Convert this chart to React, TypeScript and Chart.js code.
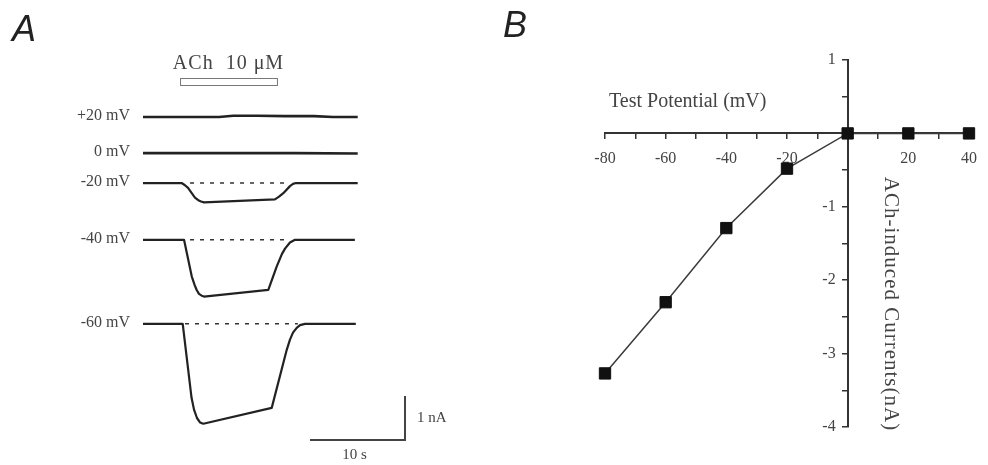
import React, { useEffect, useRef } from 'react';
import { Chart, registerables } from 'chart.js';

Chart.register(...registerables);

// ---------- Panel B: ACh-induced current vs. test potential ----------
const testPotentials = [-80, -60, -40, -20, 0, 20, 40]; // mV
const achCurrents = [-3.27, -2.3, -1.29, -0.48, 0, 0, 0]; // nA
const potentialTickLabels = ['-80', '-60', '-40', '-20', '20', '40'];
const currentTickLabels = ['1', '-1', '-2', '-3', '-4'];

// ---------- Panel A: whole-cell current traces at each holding potential ----------
const holdingLabels = ['+20 mV', '0 mV', '-20 mV', '-40 mV', '-60 mV'];
// sample times (s) and currents (nA, relative to holding current) per trace
const traceTimes: number[][] = [
  [0, 8, 9.5, 12, 15, 18, 20, 22.6],
  [0, 8, 16, 22.6],
  [0, 4.07, 4.42, 4.74, 5.13, 5.47, 5.82, 6.11, 6.42, 13.89, 14.32, 14.77, 15.47, 15.79, 16.1, 22.6],
  [0, 4.32, 5.13, 5.42, 5.65, 5.89, 6.18, 6.42, 13.19, 14.07, 14.63, 14.95, 15.47, 16.0, 22.3],
  [0, 4.18, 5.11, 5.37, 5.68, 6.0, 6.35, 13.55, 15.13, 15.47, 15.79, 16.18, 16.53, 17.05, 22.4],
];
const traceCurrents: number[][] = [
  [0, 0, 0.03, 0.03, 0.02, 0.02, 0, 0],
  [0, 0, 0, -0.01],
  [0, 0, -0.05, -0.11, -0.23, -0.33, -0.39, -0.42, -0.44, -0.37, -0.31, -0.23, -0.07, -0.02, 0, 0],
  [0, 0, -0.83, -1.02, -1.14, -1.23, -1.27, -1.29, -1.14, -0.61, -0.32, -0.2, -0.06, 0, 0],
  [0, 0, -1.68, -1.95, -2.14, -2.24, -2.27, -1.91, -0.59, -0.36, -0.2, -0.09, -0.03, 0, 0],
];
// dashed holding-current references (s), for the three responding traces
const refTraces = [2, 3, 4];
const refFrom = [4.95, 4.95, 4.42];
const refTo = [15.47, 15.47, 16.3];
// agonist application
const achOnset = 3.9; // s
const achOffset = 14.1; // s
const achLabel = 'ACh  10 μM';
// calibration bars
const scaleTime = 10; // s
const scaleCurrent = 1; // nA
const scaleTimeLabel = '10 s';
const scaleCurrentLabel = '1 nA';

// ---------- layout ----------
const W = 988;
const H = 465;
const PX_PER_S = 9.5;
const PX_PER_NA = 44;
const TRACE_LEFT = 143;
// vertical stacking of the traces (nA, in panel coordinates)
const traceBaselines = [-2.66, -3.48, -4.16, -5.45, -7.36];
const SERIF = "'Liberation Serif', 'Times New Roman', serif";
const SANS = "'Liberation Sans', Arial, sans-serif";
const INK = '#222';
const TEXT = '#444';

const panelAPlugin = {
  id: 'panelAExtras',
  afterDraw(chart: any) {
    const { ctx } = chart;
    const xs = chart.scales.x;
    const ys = chart.scales.y;
    ctx.save();

    // holding-potential labels
    ctx.fillStyle = TEXT;
    ctx.font = `16px ${SERIF}`;
    ctx.textAlign = 'right';
    ctx.textBaseline = 'middle';
    holdingLabels.forEach((lab, i) => {
      ctx.fillText(lab, 130, ys.getPixelForValue(traceBaselines[i]) - 1);
    });

    // ACh application bar and label
    const a0 = xs.getPixelForValue(achOnset);
    const a1 = xs.getPixelForValue(achOffset);
    ctx.strokeStyle = '#777';
    ctx.lineWidth = 1;
    ctx.strokeRect(a0 + 0.5, 78.5, a1 - a0, 7);
    ctx.font = `20px ${SERIF}`;
    (ctx as any).letterSpacing = '1px';
    ctx.textAlign = 'center';
    ctx.textBaseline = 'middle';
    ctx.fillText(achLabel, (a0 + a1) / 2, 64);
    (ctx as any).letterSpacing = '0px';

    // calibration bars
    const t0 = 17.58;
    const base = -10;
    const bx0 = xs.getPixelForValue(t0);
    const bx1 = xs.getPixelForValue(t0 + scaleTime);
    const by0 = ys.getPixelForValue(base);
    const by1 = ys.getPixelForValue(base + scaleCurrent);
    ctx.strokeStyle = '#444';
    ctx.lineWidth = 2;
    ctx.beginPath();
    ctx.moveTo(bx0, by0);
    ctx.lineTo(bx1, by0);
    ctx.lineTo(bx1, by1);
    ctx.stroke();
    ctx.font = `15px ${SERIF}`;
    ctx.textAlign = 'left';
    ctx.fillText(scaleCurrentLabel, bx1 + 12, (by0 + by1) / 2);
    ctx.textAlign = 'center';
    ctx.fillText(scaleTimeLabel, (bx0 + bx1) / 2 - 3, by0 + 15);

    // panel letter
    ctx.fillStyle = '#222';
    ctx.font = `italic 36px ${SANS}`;
    ctx.textAlign = 'left';
    ctx.textBaseline = 'alphabetic';
    ctx.fillText('A', 12, 41);
    ctx.restore();
  },
};

const panelBPlugin = {
  id: 'panelBExtras',
  afterDraw(chart: any) {
    const { ctx } = chart;
    const xs = chart.scales.x;
    const ys = chart.scales.y;
    ctx.save();
    ctx.fillStyle = TEXT;

    // current tick labels, set off to the left of the y axis
    ctx.font = `16px ${SERIF}`;
    ctx.textAlign = 'right';
    ctx.textBaseline = 'middle';
    const axisX = xs.getPixelForValue(0);
    currentTickLabels.forEach((lab) => {
      ctx.fillText(lab, axisX - 12, ys.getPixelForValue(Number(lab)));
    });

    ctx.font = `20px ${SERIF}`;
    ctx.textAlign = 'left';
    ctx.fillText('Test Potential (mV)', 609, 102);

    ctx.translate(891, 304);
    ctx.rotate(Math.PI / 2);
    ctx.font = `21px ${SERIF}`;
    (ctx as any).letterSpacing = '1px';
    ctx.textAlign = 'center';
    ctx.fillText('ACh-induced Currents(nA)', 0, 0);
    ctx.restore();

    ctx.save();
    ctx.fillStyle = '#222';
    ctx.font = `italic 36px ${SANS}`;
    ctx.textAlign = 'left';
    ctx.textBaseline = 'alphabetic';
    ctx.fillText('B', 503, 37);
    ctx.restore();
  },
};

export default function App() {
  const refA = useRef<HTMLCanvasElement>(null);
  const refB = useRef<HTMLCanvasElement>(null);

  useEffect(() => {
    const traceSets = traceTimes.map((times, i) => ({
      data: times.map((t, j) => ({ x: t, y: traceBaselines[i] + traceCurrents[i][j] })),
      borderColor: INK,
      borderWidth: i < 2 ? 2.6 : 2.2,
      borderJoinStyle: 'round' as const,
      pointRadius: 0,
      tension: 0,
      fill: false,
    }));
    const refSets = refTraces.map((ti, k) => ({
      data: [
        { x: refFrom[k], y: traceBaselines[ti] },
        { x: refTo[k], y: traceBaselines[ti] },
      ],
      borderColor: '#333',
      borderWidth: 1.5,
      borderDash: [4, 6],
      pointRadius: 0,
      fill: false,
    }));

    const chartA = new Chart(refA.current!, {
      type: 'line',
      data: { datasets: [...refSets, ...traceSets] as any },
      options: {
        responsive: false,
        animation: false,
        devicePixelRatio: 1,
        layout: { padding: 0, autoPadding: false },
        plugins: { legend: { display: false }, tooltip: { enabled: false } },
        scales: {
          x: {
            type: 'linear',
            display: false,
            min: -TRACE_LEFT / PX_PER_S,
            max: -TRACE_LEFT / PX_PER_S + W / PX_PER_S,
          },
          y: { type: 'linear', display: false, min: -H / PX_PER_NA, max: 0 },
        },
      },
      plugins: [panelAPlugin],
    });

    const tickFont = { family: SERIF, size: 16 };
    const chartB = new Chart(refB.current!, {
      type: 'line',
      data: {
        datasets: [
          {
            data: testPotentials.map((v, i) => ({ x: v, y: achCurrents[i] })),
            borderColor: '#3a3a3a',
            borderWidth: 1.5,
            pointStyle: 'rect',
            pointRadius: 8,
            pointBackgroundColor: '#111',
            pointBorderColor: '#111',
            pointBorderWidth: 1,
            clip: false as any,
            tension: 0,
          },
        ],
      },
      options: {
        responsive: false,
        animation: false,
        devicePixelRatio: 1,
        layout: { padding: { left: 605, right: 14, top: 60, bottom: 38 }, autoPadding: false },
        plugins: { legend: { display: false }, tooltip: { enabled: false } },
        scales: {
          x: {
            type: 'linear',
            position: { y: 0 } as any,
            min: -80,
            max: 40,
            ticks: {
              stepSize: 10,
              autoSkip: false,
              maxRotation: 0,
              padding: 11,
              color: TEXT,
              font: tickFont,
              callback: (v: any) => (potentialTickLabels.includes(String(v)) ? String(v) : ''),
            },
            grid: { display: true, drawOnChartArea: false, drawTicks: true, tickLength: 5, color: '#333', lineWidth: 1.5 },
            border: { display: true, color: '#333', width: 2 },
          },
          y: {
            type: 'linear',
            position: { x: 0 } as any,
            min: -4,
            max: 1,
            ticks: {
              stepSize: 0.5,
              autoSkip: false,
              color: TEXT,
              font: tickFont,
              // labels are drawn by panelBExtras so they clear the axis line
              callback: () => '',
            },
            grid: { display: true, drawOnChartArea: false, drawTicks: true, tickLength: 5, color: '#333', lineWidth: 1.5 },
            border: { display: true, color: '#333', width: 2 },
          },
        },
      },
      plugins: [panelBPlugin],
    });

    return () => {
      chartA.destroy();
      chartB.destroy();
    };
  }, []);

  const canvasStyle: React.CSSProperties = { position: 'absolute', left: 0, top: 0, width: W, height: H };
  return (
    <div style={{ position: 'absolute', left: 0, top: 0, width: W, height: H, background: '#fff' }}>
      <canvas ref={refA} width={W} height={H} style={canvasStyle} />
      <canvas ref={refB} width={W} height={H} style={canvasStyle} />
    </div>
  );
}
